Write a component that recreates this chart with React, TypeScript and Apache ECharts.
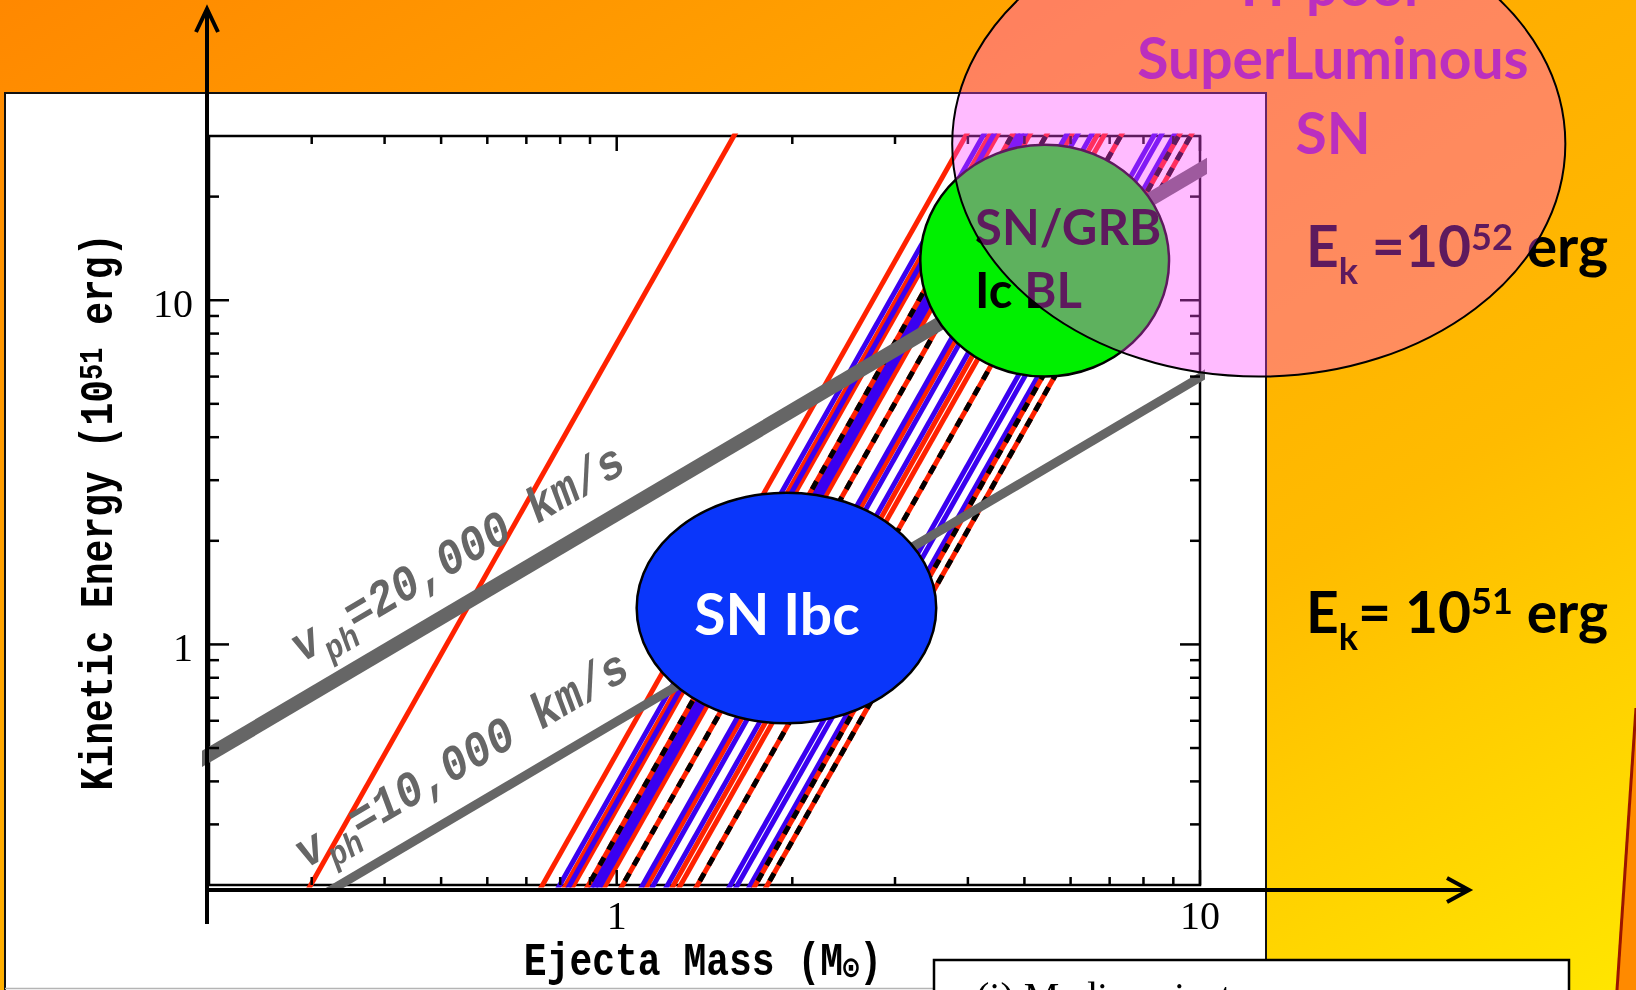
import React, { useEffect, useRef } from "react";
import * as echarts from "echarts";

const WIDTH = 1636;
const HEIGHT = 990;

// Axis ranges (log-log)
const MASS_RANGE = [0.2, 10];
const ENERGY_RANGE = [0.2, 30];

// Tick values
const massMajorTicks = [1, 10];
const massMinorTicks = [0.3, 0.4, 0.5, 0.6, 0.7, 0.8, 0.9, 2, 3, 4, 5, 6, 7, 8, 9];
const energyMajorTicks = [1, 10];
const energyMinorTicks = [0.3, 0.4, 0.5, 0.6, 0.7, 0.8, 0.9, 2, 3, 4, 5, 6, 7, 8, 9, 20];

// Constant light-curve-width tracks, E ∝ M^3; each track is given by its mass at E = 1 (10^51 erg)
const TRACK_EXPONENT = 3;
const TRACK_ENERGY_SPAN = [0.15, 40];
const redTrackMass = [0.511, 1.276, 1.399, 1.443, 1.638, 1.932, 2.141, 2.201];
const blueTrackMass = [1.366, 1.421, 1.556, 1.58, 1.606, 1.895, 1.978, 2.091, 2.68, 2.755, 2.9];
const dashedTrackMass = [1.53, 1.751, 2.353, 2.957, 3.1];

// Photospheric velocity lines: kinetic energy per solar mass of ejecta (E = 0.3 M v^2)
const VELOCITY_MASS_SPAN = [0.15, 12];
const velocityLabels = ["20,000", "10,000"];
const velocityEnergyPerMass = [2.39, 0.597];

// Event classes: bounding boxes in the mass–energy plane
const regionMassBounds = [
  [1.082, 3.53],
  [3.315, 8.85],
  [3.76, 42.3],
];
const regionEnergyBounds = [
  [0.59, 2.76],
  [6.0, 28.3],
  [6.0, 135],
];

const TRACK_RED = "#ff2200";
const TRACK_BLUE = "#3a00f0";
const GRAY = "#666666";
const MONO = '"Liberation Mono", "DejaVu Sans Mono", monospace';
const SERIF = '"Liberation Serif", "DejaVu Serif", serif';
const SANS = 'Lato, "Open Sans", sans-serif';
// distance from the alphabetic baseline to the em-box centre, in em
const CENTRAL_SANS = 0.39;
const CENTRAL_MONO = 0.267;

const measureCtx = document.createElement("canvas").getContext("2d")!;
function textWidth(text: string, font: string) {
  measureCtx.font = font;
  return measureCtx.measureText(text).width;
}

interface Seg {
  text: string;
  size: number;
  dy?: number;
}
interface RunOpts {
  x: number;
  y: number; // baseline
  family: string;
  weight: string;
  italic?: boolean;
  fill: string;
  align: "left" | "center";
  central: number;
  z: number;
  rotation?: number;
  scaleY?: number;
}
// a line of text made of runs of different sizes (sub- and superscripts), laid out on one baseline
function textRun(id: string, segs: Seg[], o: RunOpts) {
  const fontOf = (s: Seg) => `${o.italic ? "italic " : ""}${o.weight} ${s.size}px ${o.family}`;
  const widths = segs.map((s) => textWidth(s.text, fontOf(s)));
  const total = widths.reduce((a, b) => a + b, 0);
  let cursor = o.align === "center" ? -total / 2 : 0;
  const children = segs.map((s, i) => {
    const el = {
      type: "text",
      z: o.z,
      x: cursor,
      y: (s.dy ?? 0) - o.central * s.size,
      style: { text: s.text, fill: o.fill, font: fontOf(s), align: "left", verticalAlign: "middle" },
    };
    cursor += widths[i];
    return el;
  });
  return { type: "group", id, z: o.z, x: o.x, y: o.y, rotation: o.rotation ?? 0, scaleY: o.scaleY ?? 1, children };
}

function trackSeries(m1: number, color: string, z: number, dash?: number[]) {
  return {
    type: "line",
    data: TRACK_ENERGY_SPAN.map((e) => [m1 * Math.pow(e, 1 / TRACK_EXPONENT), e]),
    symbol: "none",
    silent: true,
    clip: true,
    z,
    lineStyle: { color, width: 5, type: dash ?? "solid", cap: "butt" },
  };
}

function buildSeries() {
  const series: any[] = [];
  redTrackMass.forEach((m) => series.push(trackSeries(m, TRACK_RED, 3)));
  blueTrackMass.forEach((m) => series.push(trackSeries(m, TRACK_BLUE, 3)));
  dashedTrackMass.forEach((m) => {
    series.push(trackSeries(m, TRACK_RED, 3));
    series.push(trackSeries(m, "#000000", 3, [9, 9]));
  });
  velocityEnergyPerMass.forEach((k, i) => {
    series.push({
      type: "line",
      data: VELOCITY_MASS_SPAN.map((m) => [m, k * m]),
      symbol: "none",
      silent: true,
      clip: true,
      z: 4,
      lineStyle: { color: GRAY, width: i === 0 ? 14 : 9, cap: "butt" },
    });
  });

  const tickRows = [
    ...massMajorTicks.map((v) => [v, v, 0, 1]),
    ...massMinorTicks.map((v) => [v, v, 0, 0]),
    ...energyMajorTicks.map((v) => [v, v, 1, 1]),
    ...energyMinorTicks.map((v) => [v, v, 1, 0]),
  ];
  series.push({
    type: "custom",
    data: tickRows,
    encode: { x: 0, y: 1 },
    clip: false,
    silent: true,
    z: 5,
    renderItem: (_params: any, api: any) => {
      const v = api.value(0) as number;
      const axis = api.value(2);
      const major = api.value(3) === 1;
      const stroke = { stroke: "#000", lineWidth: 2.5 };
      const label = (x: number, y: number, align: string) => ({
        type: "text",
        x,
        y,
        style: { text: String(v), fill: "#000", fontSize: 40, fontFamily: SERIF, align, verticalAlign: "middle" },
      });
      const children: any[] = [];
      if (axis === 0) {
        const b = api.coord([v, ENERGY_RANGE[0]]);
        const t = api.coord([v, ENERGY_RANGE[1]]);
        const len = major ? 15 : 8;
        children.push({ type: "line", shape: { x1: b[0], y1: b[1], x2: b[0], y2: b[1] - len }, style: stroke });
        children.push({ type: "line", shape: { x1: t[0], y1: t[1], x2: t[0], y2: t[1] + len }, style: stroke });
        if (major) children.push(label(b[0], b[1] + 30, "center"));
      } else {
        const l = api.coord([MASS_RANGE[0], v]);
        const r = api.coord([MASS_RANGE[1], v]);
        const len = major ? 20 : 10;
        children.push({ type: "line", shape: { x1: l[0], y1: l[1], x2: l[0] + len, y2: l[1] }, style: stroke });
        children.push({ type: "line", shape: { x1: r[0], y1: r[1], x2: r[0] - len, y2: r[1] }, style: stroke });
        if (major) children.push(label(l[0] - 16, l[1] + 3, "right"));
      }
      return { type: "group", children };
    },
  });
  return series;
}

function baseGraphics(): any[] {
  const bg = new echarts.graphic.LinearGradient(0, 0, 1, 1, [
    { offset: 0, color: "#ff8800" },
    { offset: 0.37, color: "#ffa800" },
    { offset: 0.68, color: "#ffbb00" },
    { offset: 0.8, color: "#ffcc00" },
    { offset: 1, color: "#ffe600" },
  ]);
  const monoRich = (size: number) => ({
    n: { fontSize: size, fontFamily: MONO, fontWeight: "bold", fill: "#000", lineHeight: size },
    s: { fontSize: Math.round(size * 0.7), fontFamily: MONO, fontWeight: "bold", fill: "#000", lineHeight: 10, verticalAlign: "bottom" },
    p: { fontSize: Math.round(size * 0.7), fontFamily: MONO, fontWeight: "bold", fill: "#000", lineHeight: 18, verticalAlign: "top" },
  });
  const ekSegs = (gap1: string, exp: string, supDy: number): Seg[] => [
    { text: "E", size: 57 },
    { text: "k", size: 36, dy: 17 },
    { text: gap1, size: 57 },
    { text: exp, size: 36, dy: supDy },
    { text: " erg", size: 57 },
  ];
  const ekOpts = { family: SANS, weight: "bold", fill: "#000", align: "left" as const, central: CENTRAL_SANS, z: 8 };
  return [
    { type: "rect", id: "bg", z: 0, shape: { x: 0, y: 0, width: WIDTH, height: HEIGHT }, style: { fill: bg } },
    { type: "rect", id: "panel", z: 1, shape: { x: 5, y: 93, width: 1261, height: 905 }, style: { fill: "#ffffff", stroke: "#111", lineWidth: 2 } },
    { type: "line", id: "panelBottom", z: 1, shape: { x1: 5, y1: 988.5, x2: 1266, y2: 988.5 }, style: { stroke: "#b4b4b4", lineWidth: 1.5 } },
    // coordinate arrows
    { type: "line", id: "yArrow", z: 8, shape: { x1: 207, y1: 924, x2: 207, y2: 10 }, style: { stroke: "#000", lineWidth: 4 } },
    { type: "polyline", id: "yHead", z: 8, shape: { points: [[196, 32], [207, 9], [218, 32]] }, style: { stroke: "#000", lineWidth: 4, fill: null } },
    { type: "line", id: "xArrow", z: 8, shape: { x1: 205, y1: 890, x2: 1468, y2: 890 }, style: { stroke: "#000", lineWidth: 4 } },
    { type: "polyline", id: "xHead", z: 8, shape: { points: [[1447, 878], [1469, 890], [1447, 902]] }, style: { stroke: "#000", lineWidth: 4, fill: null } },
    // axis titles
    {
      type: "text", id: "yTitle", z: 8, x: 100, y: 512, rotation: Math.PI / 2, scaleY: 1.2,
      style: { text: "{n|Kinetic Energy (10}{p|51}{n| erg)}", rich: monoRich(38), align: "center", verticalAlign: "middle" },
    },
    {
      type: "text", id: "xTitle", z: 8, x: 703, y: 963, scaleY: 1.2,
      style: { text: "{n|Ejecta Mass (M}{s|⊙}{n|)}", rich: monoRich(38), align: "center", verticalAlign: "middle" },
    },
    // energy scale labels
    textRun("ek52", ekSegs(" =10", "52", -17), { ...ekOpts, x: 1306, y: 267 }),
    textRun("ek51", ekSegs("= 10", "51", -19), { ...ekOpts, x: 1306, y: 633 }),
    // note box at the bottom
    { type: "rect", id: "noteBox", z: 12, shape: { x: 934, y: 960, width: 635, height: 60 }, style: { fill: "#fff", stroke: "#000", lineWidth: 2.5 } },
    { type: "text", id: "noteText", z: 12, x: 976, y: 996, style: { text: "(i) Median ejecta masses:", fill: "#000", fontSize: 40, fontFamily: SERIF, align: "left", verticalAlign: "middle" } },
    // edge of the neighbouring shape
    { type: "polygon", id: "edgeFill", z: 12, shape: { points: [[1636, 708], [1617, 990], [1636, 990]] }, style: { fill: "#ff8a00" } },
    { type: "line", id: "edgeLine", z: 12, shape: { x1: 1636, y1: 708, x2: 1617, y2: 990 }, style: { stroke: "#9b1400", lineWidth: 3 } },
  ];
}

function chartGraphics(chart: any): any[] {
  const toPx = (m: number, e: number) => chart.convertToPixel({ gridIndex: 0 }, [m, e]) as number[];
  const boxes = regionMassBounds.map((mb, i) => {
    const eb = regionEnergyBounds[i];
    const p0 = toPx(mb[0], eb[0]);
    const p1 = toPx(mb[1], eb[1]);
    return {
      cx: (p0[0] + p1[0]) / 2,
      cy: (p0[1] + p1[1]) / 2,
      rx: Math.abs(p1[0] - p0[0]) / 2,
      ry: Math.abs(p1[1] - p0[1]) / 2,
    };
  });
  // on-screen direction of a constant-velocity line
  const a = toPx(1, velocityEnergyPerMass[0]);
  const b = toPx(10, 10 * velocityEnergyPerMass[0]);
  const angle = Math.atan2(a[1] - b[1], b[0] - a[0]);
  const labelBaselines = [
    [302, 663],
    [306, 869],
  ];
  const bold = (size: number, fill: string) => ({ fontSize: size, fontFamily: SANS, fontWeight: "bold", fill });
  return [
    ...velocityLabels.map((v, i) =>
      textRun(
        "vLabel" + i,
        [
          { text: "v", size: 44 },
          { text: "ph", size: 30, dy: 12 },
          { text: `=${v} km/s`, size: 44 },
        ],
        {
          x: labelBaselines[i][0],
          y: labelBaselines[i][1],
          rotation: angle,
          scaleY: 1.12,
          family: MONO,
          weight: "bold",
          italic: true,
          fill: GRAY,
          align: "left",
          central: CENTRAL_MONO,
          z: 8,
        }
      )
    ),
    { type: "ellipse", id: "ibc", z: 6, shape: boxes[0], style: { fill: "#0a36fa", stroke: "#000", lineWidth: 2.5 } },
    { type: "text", id: "ibcText", z: 7, x: 777, y: 613, style: { text: "SN Ibc", ...bold(57, "#fff"), align: "center", verticalAlign: "middle" } },
    { type: "ellipse", id: "grb", z: 6, shape: boxes[1], style: { fill: "#00f000", stroke: "#000", lineWidth: 2.5 } },
    { type: "text", id: "grbText1", z: 7, x: 975, y: 226, style: { text: "SN/GRB", ...bold(49, "#000"), align: "left", verticalAlign: "middle" } },
    { type: "text", id: "grbText2", z: 7, x: 975, y: 289, style: { text: "Ic BL", ...bold(49, "#000"), align: "left", verticalAlign: "middle" } },
    { type: "ellipse", id: "slsn", z: 10, shape: boxes[2], style: { fill: "rgba(255, 70, 255, 0.37)", stroke: "#000", lineWidth: 2 } },
    { type: "text", id: "slsnText0", z: 11, x: 1333, y: -16, style: { text: "H-poor", ...bold(57, "#bb2fbf"), align: "center", verticalAlign: "middle" } },
    { type: "text", id: "slsnText1", z: 11, x: 1333, y: 57, style: { text: "SuperLuminous", ...bold(57, "#bb2fbf"), align: "center", verticalAlign: "middle" } },
    { type: "text", id: "slsnText2", z: 11, x: 1333, y: 132, style: { text: "SN", ...bold(57, "#bb2fbf"), align: "center", verticalAlign: "middle" } },
  ];
}

export default function App() {
  const ref = useRef<HTMLDivElement>(null);
  useEffect(() => {
    const chart = echarts.init(ref.current!, undefined, { renderer: "svg", width: WIDTH, height: HEIGHT });
    const base = baseGraphics();
    chart.setOption({
      animation: false,
      grid: {
        left: 209,
        top: 136,
        width: 991,
        height: 749,
        show: true,
        z: 2,
        borderColor: "#000",
        borderWidth: 2.5,
        backgroundColor: "transparent",
        outerBoundsMode: "none",
        containLabel: false,
      },
      xAxis: { type: "log", logBase: 10, min: MASS_RANGE[0], max: MASS_RANGE[1], show: false },
      yAxis: { type: "log", logBase: 10, min: ENERGY_RANGE[0], max: ENERGY_RANGE[1], show: false },
      graphic: base,
      series: buildSeries(),
    });
    chart.setOption({ graphic: [...base, ...chartGraphics(chart)] });
    return () => chart.dispose();
  }, []);
  return <div ref={ref} style={{ position: "fixed", left: 0, top: 0, width: WIDTH, height: HEIGHT }} />;
}
